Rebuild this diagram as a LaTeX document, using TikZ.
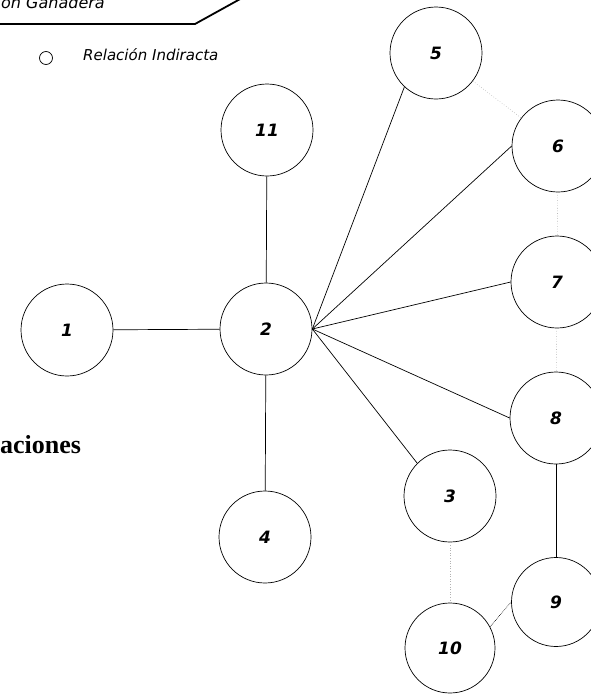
\documentclass[tikz,border=0pt]{standalone}
\usepackage{fontspec}
\setmainfont{Liberation Serif}
\newfontfamily\comic{DejaVu Sans}
\begin{document}
\begin{tikzpicture}[x=1pt,y=-1pt,
  nd/.style={circle, draw, line width=0.7pt, minimum size=92pt, inner sep=0pt,
    font=\comic\itshape\bfseries\fontsize{17}{17}\selectfont},
  ln/.style={line width=0.7pt},
  faint/.style={line width=0.6pt, gray!60, dotted},
  dln/.style={line width=0.6pt, densely dotted}]
\useasboundingbox (0,0) rectangle (591,694);
\clip (0,0) rectangle (591,694);
% header
\coordinate (h0) at (0,24);
\coordinate (h1) at (195,24);
\coordinate (h2) at (242,-2);
\draw[line width=1.8pt] (h0) -- (h1) -- (h2);
\node[anchor=base west, inner sep=0pt, font=\comic\itshape\fontsize{16}{16}\selectfont] (head) at (1,8) {on Ganadera};
% legend
\node[circle, draw, line width=0.7pt, minimum size=13pt, inner sep=0pt] (lg) at (46,58) {};
\node[anchor=west, inner sep=0pt, font=\comic\itshape\fontsize{15}{15}\selectfont] (lgt) at (83,55) {Relación Indiracta};
% partial title
\node[anchor=base west, inner sep=0pt, font=\bfseries\fontsize{26}{26}\selectfont] (tit) at (0,453) {aciones};
% nodes
\node[nd] (n1) at (67,330) {1};
\node[nd] (n2) at (266,329) {2};
\node[nd] (n11) at (267,130) {11};
\node[nd] (n4) at (265,537) {4};
\node[nd] (n5) at (436,53) {5};
\node[nd] (n6) at (558,146) {6};
\node[nd] (n7) at (557,282) {7};
\node[nd] (n8) at (556,418) {8};
\node[nd] (n3) at (450,496) {3};
\node[nd, minimum size=89pt] (n9) at (556,602) {9};
\node[nd, minimum size=90pt] (n10) at (450,648) {10};
% solid edges
\draw[ln] (n1) -- (n2);
\draw[ln] (n11) -- (n2);
\draw[ln] (n2) -- (n4);
\draw[ln] (n2.east) -- (n5.227);
\draw[ln] (n2.east) -- (n6.west);
\draw[ln] (n2.east) -- (n7.west);
\draw[ln] (n2.east) -- (n8.west);
\draw[ln] (n2.east) -- (n3.135);
\draw[ln] (n8) -- (n9);
\draw[dln] (n9.180) -- (n10.28);
% faint dotted edges
\draw[faint] (n5) -- (n6);
\draw[faint] (n6) -- (n7);
\draw[faint] (n7) -- (n8);
\draw[faint] (n3) -- (n10);
\end{tikzpicture}
\end{document}
